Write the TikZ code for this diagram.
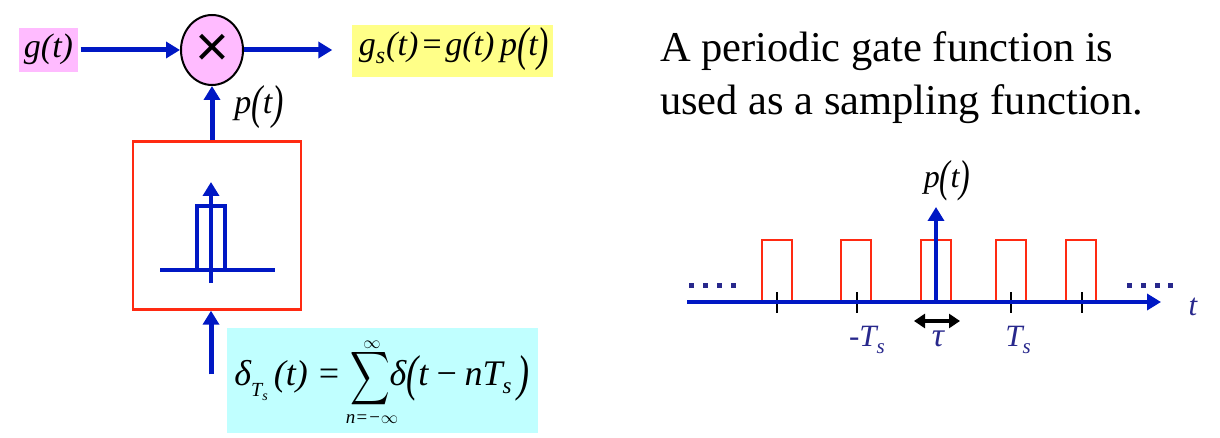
\documentclass[tikz,border=0pt]{standalone}
\usepackage{fontspec}
\usepackage{amsmath}
\usepackage{graphicx}
\setmainfont{Liberation Serif}
\newfontfamily\sansx{Liberation Sans}
\definecolor{wireblue}{HTML}{0018C4}
\definecolor{boxred}{HTML}{FF2A12}
\definecolor{navylab}{HTML}{28288C}
\definecolor{pinkfill}{HTML}{FFBBFF}
\definecolor{yellowfill}{HTML}{FFFF88}
\definecolor{cyanfill}{HTML}{C0FFFF}
\usetikzlibrary{arrows.meta,shapes.geometric}
\newcommand{\tallp}[1]{\raisebox{-0.14em}{\scalebox{1}[1.4]{#1}}}
\tikzset{
  x=1pt,y=-1pt,
  wire/.style={draw=wireblue,line width=5pt,-{Triangle[length=14pt,width=16pt]}},
  thin wire/.style={draw=wireblue,line width=4.4pt},
  axis wire/.style={draw=wireblue,line width=4.6pt,-{Triangle[length=14pt,width=16pt]}},
  pulse/.style={draw=boxred,line width=2pt},
  tick/.style={draw=black,line width=1.6pt},
  lab/.style={inner sep=0pt,font=\fontsize{34}{40}\selectfont\itshape},
  small lab/.style={inner sep=0pt,text=navylab,font=\fontsize{31}{32}\selectfont\itshape},
  headline/.style={inner sep=0pt,align=left,anchor=north west,font=\fontsize{42.5}{53}\selectfont},
}
\begin{document}
\begin{tikzpicture}
\useasboundingbox (0,0) rectangle (1220,438);
% coloured panels
\node[fill=pinkfill,minimum width=59pt,minimum height=44pt,inner sep=0pt,anchor=north west] (gbox) at (19,28) {};
\node[lab] (glab) at (48.5,49) {g(t)};
\node[fill=yellowfill,minimum width=201pt,minimum height=52pt,inner sep=0pt,anchor=north west] (ybox) at (352,25) {};
\node[lab] (ylab) at (454,49) {g\raisebox{-0.22em}{\fontsize{24}{24}\selectfont s}\hspace{1pt}(t)\hspace{2pt}=\hspace{2pt}g(t)\,p\tallp{(}t\tallp{)}};
\node[fill=cyanfill,minimum width=311pt,minimum height=105pt,inner sep=0pt,anchor=north west] (cbox) at (227,328) {};
\node[inner sep=0pt] (clab) at (382,379) {\fontsize{36}{40}\selectfont\itshape δ\raisebox{-0.3em}{\fontsize{20}{20}\selectfont T\raisebox{-0.2em}{\fontsize{14}{14}\selectfont s}}\,(t) = $\vcenter{\hbox{\scalebox{1.1}[1.5]{$\displaystyle\sum$}}}$δ\tallp{(}t\,−\,nT\raisebox{-0.22em}{\fontsize{23}{23}\selectfont s}\,\tallp{)}};
\node[inner sep=0pt,font=\fontsize{16}{16}\selectfont] (suptop) at (372,345) {$\infty$};
\node[inner sep=0pt,font=\fontsize{19}{19}\selectfont\itshape] (subbot) at (372,419) {n=−\fontsize{16}{16}\selectfont$\infty$};
% multiplier
\node[draw=black,fill=pinkfill,line width=2pt,ellipse,minimum width=62pt,minimum height=70pt,inner sep=0pt] (mult) at (212,50) {\sansx\fontsize{58}{58}\selectfont ×};
% gate box
\node[draw=boxred,line width=2.4pt,minimum size=168pt,inner sep=0pt] (gate) at (217,225.5) {};
\coordinate (ax1) at (160,270);
\coordinate (ax2) at (275,270);
\coordinate (up1) at (211,283);
\coordinate (up2) at (211,182);
\draw[thin wire] (ax1) -- (ax2);
\draw[thin wire] (197,270) -- (197,206) -- (225,206) -- (225,270);
\draw[axis wire] (up1) -- (up2);
% block connectors
\node[inner sep=0pt] (gout) at (80,50) {};
\node[inner sep=0pt] (yin) at (333,50) {};
\node[inner sep=0pt] (cin) at (211,375) {};
\draw[wire] (gout) -- (mult.west);
\draw[wire] (mult.east) -- (yin);
\draw[wire] (gate.north -| mult.south) -- (mult.south);
\draw[wire] (cin) -- (gate.south -| cin);
\node[lab] (plab) at (259,107) {p\tallp{(}t\tallp{)}};
% headline
\node[headline] (head) at (660,31) {A periodic gate function is\\used as a sampling function.};
% pulse train
\foreach \a/\n in {762/a,841/b,921/c,996/d,1066/e}{
  \draw[pulse] (\a,302) -- (\a,240) -- (\a+30,240) -- (\a+30,302);
}
\foreach \t in {777,857,1011,1082}{
  \draw[tick] (\t,292) -- (\t,313);
}
\coordinate (tstart) at (687,302);
\coordinate (tend) at (1161,302);
\coordinate (pstart) at (936,302);
\coordinate (pend) at (936,207);
\draw[axis wire] (tstart) -- (tend);
\draw[axis wire] (pstart) -- (pend);
\coordinate (w1) at (914,321);
\coordinate (w2) at (960,321);
\draw[draw=black,line width=3.4pt,{Triangle[length=11pt,width=14pt]}-{Triangle[length=11pt,width=14pt]}] (w1) -- (w2);
\node[lab,font=\fontsize{32}{36}\selectfont\itshape] (pt2) at (947,181) {p\tallp{(}t\tallp{)}};
\node[small lab] (mts) at (867,340) {-T\raisebox{-0.22em}{\fontsize{21}{21}\selectfont s}};
\node[small lab,font=\fontsize{34}{34}\selectfont\itshape] (tau) at (938,339) {τ};
\node[small lab] (pts) at (1018,340) {T\raisebox{-0.22em}{\fontsize{21}{21}\selectfont s}};
\node[small lab] (tl) at (1193,307) {t};
\foreach \x in {691,705,719,733,1129,1143,1157,1170}{
  \fill[navylab] (\x-2.5,283) rectangle (\x+2.5,287.5);
}
\end{tikzpicture}
\end{document}
